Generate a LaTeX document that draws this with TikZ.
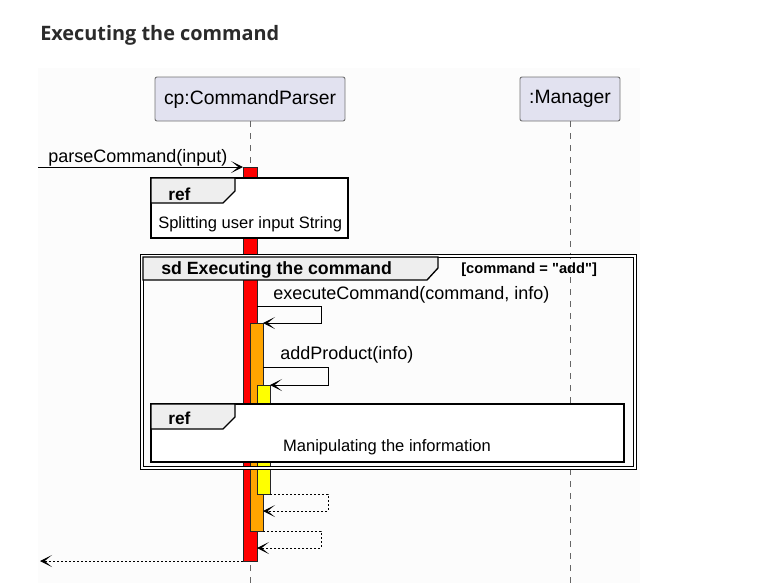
\documentclass[tikz,border=0pt]{standalone}
\usepackage{fontspec}
\setmainfont{Liberation Sans}[Ligatures=TeXOff]
\newfontfamily\titlefont{Open Sans}
\usetikzlibrary{arrows.meta}
\definecolor{partfill}{HTML}{E2E2F0}
\definecolor{titlegray}{HTML}{2B2B2B}
\definecolor{actred}{HTML}{FF0000}
\definecolor{actorange}{HTML}{FFA500}
\definecolor{actyellow}{HTML}{FFFF00}
\definecolor{tabgray}{HTML}{EEEEEE}
\definecolor{bggray}{HTML}{FCFCFC}
\begin{document}
\begin{tikzpicture}[x=0.75pt,y=-0.75pt,
  part/.style={draw=black!55, fill=partfill, rounded corners=1.5pt, line width=0.7pt,
    minimum height=33pt, inner sep=0, font=\fontsize{14.5}{17}\selectfont},
  life/.style={draw=black!60, line width=0.6pt, dash pattern=on 4.5pt off 4.5pt},
  actbar/.style={draw=black!85, line width=0.5pt, inner sep=0, outer sep=0},
  msg/.style={draw=black, line width=0.75pt, -{Stealth[length=9pt,width=9pt,inset=5.5pt]}},
  ret/.style={msg, dash pattern=on 1.5pt off 1.5pt},
  lbl/.style={font=\fontsize{13.5}{16}\selectfont, inner sep=0, anchor=base west},
  reftxt/.style={font=\fontsize{12.4}{15}\selectfont, inner sep=0},
  refbox/.style={draw=black, line width=1pt, fill=white, inner sep=0, outer sep=0},
  tab/.style={draw=black, line width=1pt, fill=tabgray},
  bold/.style={font=\bfseries\fontsize{13}{15}\selectfont, inner sep=0, anchor=base west},
]
\useasboundingbox (0,0) rectangle (770,583);
\fill[bggray] (38,68) rectangle (640,583);

\node[anchor=base west, inner sep=0, text=titlegray, font=\titlefont\bfseries\fontsize{14.9}{18}\selectfont] (title) at (40,40) {Executing the command};

% participants
\node[part, minimum width=142.5pt] (cp) at (250,99) {cp:CommandParser};
\node[part, minimum width=75pt] (mgr) at (570,99) {:Manager};
\coordinate (bot) at (0,583);
\draw[life] (cp.south) -- (cp.south |- bot);
\draw[life] (mgr.south) -- (mgr.south |- bot);

% activation bars
\node[actbar, fill=actred, minimum width=10.5pt, minimum height=295.5pt] (red) at (250,364) {};
\node[actbar, fill=actorange, minimum width=9.75pt, minimum height=156pt] (orange) at (256.5,427) {};
\node[actbar, fill=actyellow, minimum width=9.75pt, minimum height=81.75pt] (yellow) at (263.5,439.5) {};

% sd frame
\node[draw=black, double=white, double distance=1.5pt, line width=0.75pt, minimum width=369.75pt,
  minimum height=159pt, inner sep=0] (sd) at (388,361.5) {};
\filldraw[tab] (143,257) -- (438,257) -- (438,268) -- (427,280) -- (143,280) -- cycle;
\node[bold, font=\bfseries\fontsize{13.3}{15}\selectfont] (sdtitle) at (161,274) {sd Executing the command};
\node[bold, font=\bfseries\fontsize{11}{13}\selectfont] (guard) at (461,273) {[command = "add"]};

% ref 1
\node[refbox, minimum width=147.75pt, minimum height=45pt] (ref1) at (249.5,208) {};
\filldraw[tab] (ref1.north west) -- ++(84,0) -- ++(0,13) -- ++(-12,12) -- ++(-72,0) -- cycle;
\node[bold] (ref1lbl) at (168,200) {ref};
\node[reftxt, anchor=base west] (ref1txt) at (158,228) {Splitting user input String};

% ref 2
\node[refbox, minimum width=354.75pt, minimum height=43.5pt] (ref2) at (387.5,433) {};
\filldraw[tab] (ref2.north west) -- ++(84,0) -- ++(0,13) -- ++(-12,12) -- ++(-72,0) -- cycle;
\node[bold] (ref2lbl) at (168,424) {ref};
\node[reftxt, anchor=base] (ref2txt) at (387,451) {Manipulating the information};

% messages
\coordinate (in) at (38,167);
\draw[msg] (in) -- (red.north west);
\node[lbl] (m1) at (48,162) {parseCommand(input)};

\draw[msg] (red.north east) ++(0,139) -- ++(64,0) -- ++(0,17) -- (orange.north east);
\node[lbl] (m2) at (273,299) {executeCommand(command, info)};

\draw[msg] (orange.north east) ++(0,44) -- ++(65,0) -- ++(0,18) -- (yellow.north east);
\node[lbl] (m3) at (280,359) {addProduct(info)};

% returns
\draw[ret] (yellow.south east) -- ++(58,0) -- ++(0,17) coordinate (r1) -- (r1 -| orange.east);
\draw[ret] (orange.south east) -- ++(58,0) -- ++(0,17) coordinate (r2) -- (r2 -| red.east);
\coordinate (out) at (40,561);
\draw[ret] (red.south west) -- (out);
\end{tikzpicture}
\end{document}
